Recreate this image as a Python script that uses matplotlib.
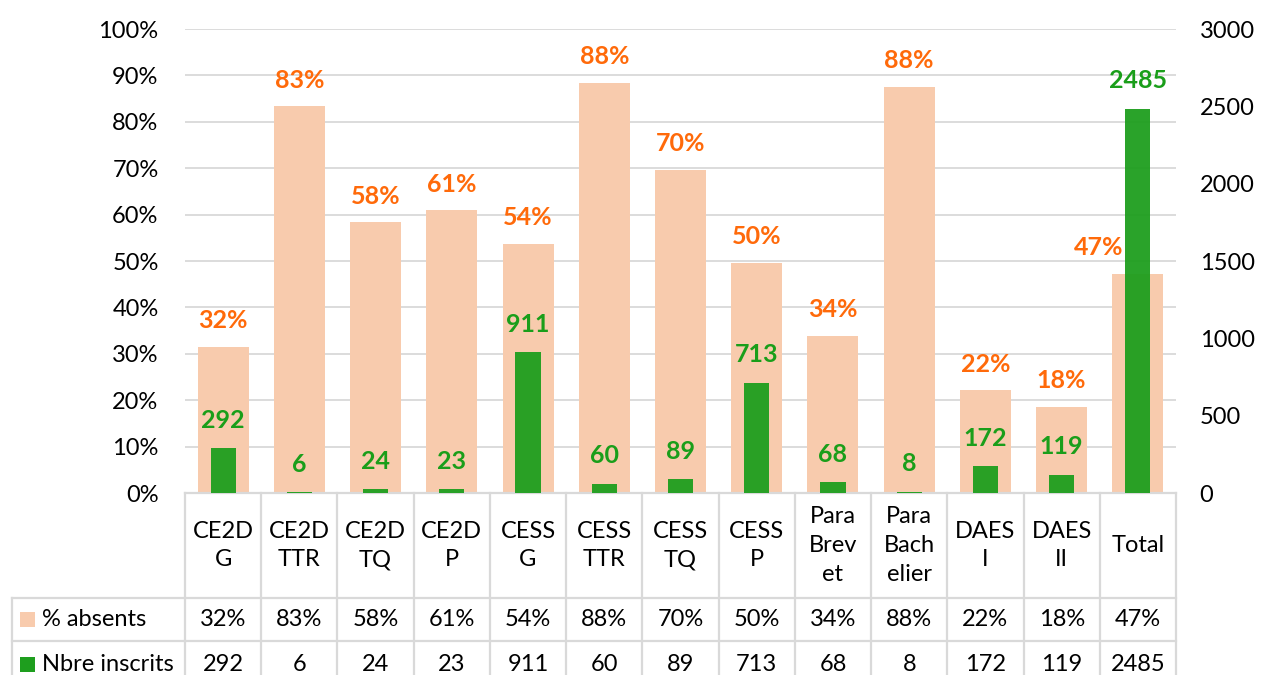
import numpy as np
import matplotlib
matplotlib.use("Agg")
import matplotlib.pyplot as plt
import matplotlib.transforms as mtransforms
from matplotlib.patches import Rectangle

plt.rcParams['font.family'] = ['Lato', 'DejaVu Sans']

categories = ["CE2D\nG", "CE2D\nTTR", "CE2D\nTQ", "CE2D\nP", "CESS\nG", "CESS\nTTR",
              "CESS\nTQ", "CESS\nP", "Para\nBrev\net", "Para\nBach\nelier",
              "DAES\nI", "DAES\nII", "Total"]
pct_absents = [31.5, 83.3, 58.3, 60.9, 53.7, 88.3, 69.7, 49.6, 33.8, 87.5, 22.1, 18.5, 47.3]
nb_inscrits = [292, 6, 24, 23, 911, 60, 89, 713, 68, 8, 172, 119, 2485]
series_names = ["% absents", "Nbre inscrits"]

PEACH = "#F8CBAD"
GREEN = "#1E9E1E"
ORANGE_TXT = "#FF6A0A"
GREEN_TXT = "#1A9E1A"
GRID = "#D9D9D9"
FS = 17

W, H = 1263, 675
fig = plt.figure(figsize=(W / 100, H / 100), dpi=100)
ax = fig.add_axes([185 / W, (H - 493) / H, (1176 - 185) / W, (493 - 29) / H])
ax2 = ax.twinx()

x = np.arange(len(categories))
ax.bar(x, pct_absents, width=0.67, color=PEACH, zorder=2)
ax2.bar(x, nb_inscrits, width=0.33, color=GREEN, alpha=0.95, zorder=2)

for xi, v in zip(x, pct_absents):
    dx = -28 if xi == len(categories) - 1 else 0  # Total label moved left of the green bar
    ax.annotate("{:.0f}%".format(v), (xi, v), xytext=(dx, 19), textcoords="offset points",
                ha="center", va="center", fontsize=18, fontweight="bold", color=ORANGE_TXT)
for xi, v in zip(x, nb_inscrits):
    ax2.annotate(str(v), (xi, v), xytext=(0, 20), textcoords="offset points",
                 ha="center", va="center", fontsize=18, fontweight="bold", color=GREEN_TXT)

ax.set_xlim(-0.5, len(categories) - 0.5)
ax.set_ylim(0, 100)
ax.set_yticks(np.arange(0, 101, 10))
ax.set_yticklabels(["{}%".format(t) for t in range(0, 101, 10)])
ax2.set_ylim(0, 3000)
ax2.set_yticks(np.arange(0, 3001, 500))
ax.yaxis.grid(True, color=GRID, lw=1.3, zorder=0)
ax.set_axisbelow(True)
ax.set_xticks([])
for a in (ax, ax2):
    for s in a.spines.values():
        s.set_visible(False)
    a.tick_params(axis="y", length=0, labelsize=FS)
ax.tick_params(axis="y", pad=19)
ax2.tick_params(axis="y", pad=17)

# data table below the plot
tr_data = mtransforms.blended_transform_factory(ax.transData, ax.transAxes)
tr_fig = mtransforms.blended_transform_factory(fig.transFigure, ax.transAxes)
ph = 493 - 29
y_hdr = -(598 - 493) / ph
y_r1 = -(641 - 493) / ph
y_r2 = -(690 - 493) / ph
left_fig = 12 / W
lk = dict(color=GRID, lw=1.6, clip_on=False, zorder=5)

ax.plot([-0.5, len(categories) - 0.5], [0, 0], transform=tr_data, **lk)
for b in np.arange(-0.5, len(categories), 1.0):
    ax.plot([b, b], [0, y_r2], transform=tr_data, **lk)
for yy in (y_hdr, y_r1):
    ax.plot([left_fig, 185 / W], [yy, yy], transform=tr_fig, **lk)
    ax.plot([-0.5, len(categories) - 0.5], [yy, yy], transform=tr_data, **lk)
ax.plot([left_fig, left_fig], [y_hdr, y_r2], transform=tr_fig, **lk)

for xi, c in zip(x, categories):
    ax.text(xi, y_hdr / 2, c, transform=tr_data, ha="center", va="center",
            fontsize=FS, linespacing=1.45, clip_on=False)
row_mid = [(y_hdr + y_r1) / 2, (y_r1 + y_r2) / 2 + 0.003]
row_vals = [["{:.0f}%".format(v) for v in pct_absents], [str(v) for v in nb_inscrits]]
row_cols = [PEACH, GREEN]
for ym, vals, name, col in zip(row_mid, row_vals, series_names, row_cols):
    for xi, s in zip(x, vals):
        ax.text(xi, ym, s, transform=tr_data, ha="center", va="center", fontsize=FS, clip_on=False)
    ax.text(42 / W, ym, name, transform=tr_fig, ha="left", va="center", fontsize=FS, clip_on=False)
    sq = 15
    ax.add_patch(Rectangle((20 / W, ym - (sq / 2) / ph), sq / W, sq / ph, transform=tr_fig,
                           facecolor=col, edgecolor="none", clip_on=False))

fig.savefig("out.png", dpi=100)
